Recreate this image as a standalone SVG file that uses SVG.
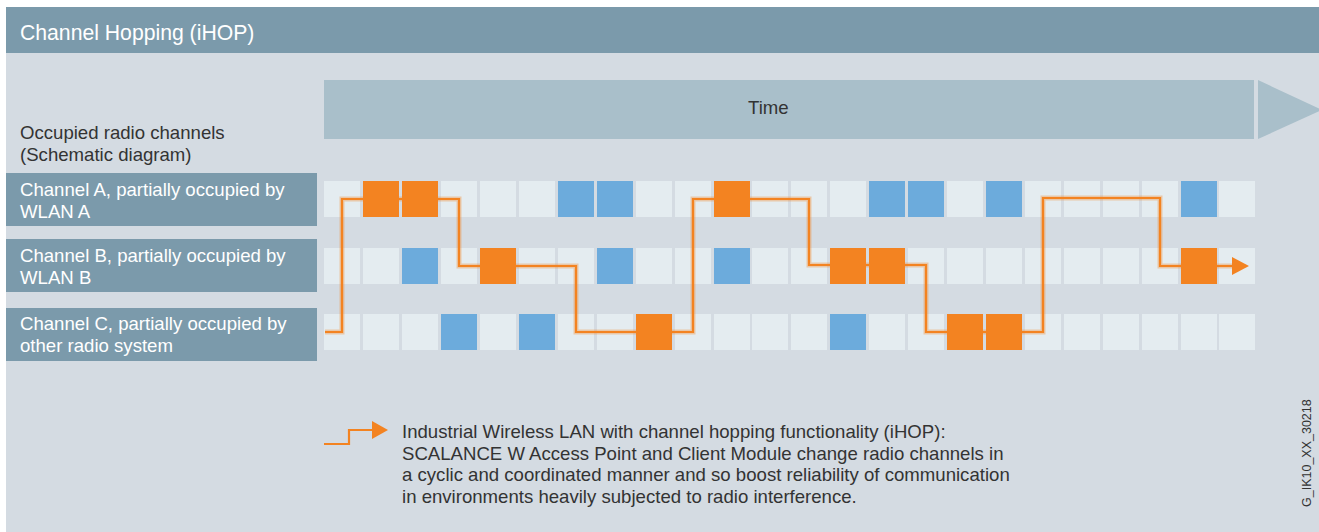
<svg xmlns="http://www.w3.org/2000/svg" width="1319" height="532" viewBox="0 0 1319 532">
<style>
.hdr{fill:#7b9aab}
.lbl{fill:#7b9aab}
.t{font-family:"Liberation Sans",Arial,sans-serif;font-size:18.6px}
.w{fill:#ffffff}
.d{fill:#333333}
.L{fill:#e4ecf0}
.B{fill:#6cabdc}
.O{fill:#f38321}
.halo{fill:none;stroke:#f38321;stroke-opacity:0.35;stroke-width:5;stroke-linejoin:miter}
.ln{fill:none;stroke:#f38321;stroke-width:2.2;stroke-linejoin:miter}
</style>
<rect width="1319" height="532" fill="#ffffff"/>
<rect x="6" y="53" width="1313" height="479" fill="#d4dbe2"/>
<g id="header">
<rect class="hdr" x="6" y="7" width="1313" height="46"/>
<text x="20" y="39.5" class="t w" style="font-size:21.2px">Channel Hopping (iHOP)</text>
</g>
<g id="time">
<rect x="324" y="80" width="930" height="59" fill="#a9bfca"/>
<polygon points="1258,80 1322,110 1258,139" fill="#a9bfca"/>
<text x="748" y="114" class="t d">Time</text>
</g>
<g id="axis-title">
<text x="20" y="139" class="t d">Occupied radio channels</text>
<text x="20" y="161" class="t d">(Schematic diagram)</text>
</g>
<g id="channel-a-label">
<rect class="lbl" x="6" y="173" width="311" height="53"/>
<text x="20" y="195.7" class="t w">Channel A, partially occupied by</text>
<text x="20" y="217.7" class="t w">WLAN A</text>
</g>
<g id="channel-b-label">
<rect class="lbl" x="6" y="239" width="311" height="53"/>
<text x="20" y="261.7" class="t w">Channel B, partially occupied by</text>
<text x="20" y="283.7" class="t w">WLAN B</text>
</g>
<g id="channel-c-label">
<rect class="lbl" x="6" y="308" width="311" height="53"/>
<text x="20" y="329.5" class="t w">Channel C, partially occupied by</text>
<text x="20" y="351.5" class="t w">other radio system</text>
</g>
<g id="row-a">
<rect class="L" x="324" y="181" width="36" height="36"/>
<rect class="L" x="441" y="181" width="36" height="36"/>
<rect class="L" x="480" y="181" width="36" height="36"/>
<rect class="L" x="519" y="181" width="36" height="36"/>
<rect class="B" x="558" y="181" width="36" height="36"/>
<rect class="B" x="597" y="181" width="36" height="36"/>
<rect class="L" x="636" y="181" width="36" height="36"/>
<rect class="L" x="675" y="181" width="36" height="36"/>
<rect class="L" x="752" y="181" width="36" height="36"/>
<rect class="L" x="791" y="181" width="36" height="36"/>
<rect class="L" x="830" y="181" width="36" height="36"/>
<rect class="B" x="869" y="181" width="36" height="36"/>
<rect class="B" x="908" y="181" width="36" height="36"/>
<rect class="L" x="947" y="181" width="36" height="36"/>
<rect class="B" x="986" y="181" width="36" height="36"/>
<rect class="L" x="1025" y="181" width="36" height="36"/>
<rect class="L" x="1064" y="181" width="36" height="36"/>
<rect class="L" x="1103" y="181" width="36" height="36"/>
<rect class="L" x="1142" y="181" width="36" height="36"/>
<rect class="B" x="1181" y="181" width="36" height="36"/>
<rect class="L" x="1219" y="181" width="36" height="36"/>
</g>
<g id="row-b">
<rect class="L" x="324" y="248" width="36" height="36"/>
<rect class="L" x="363" y="248" width="36" height="36"/>
<rect class="B" x="402" y="248" width="36" height="36"/>
<rect class="L" x="441" y="248" width="36" height="36"/>
<rect class="L" x="519" y="248" width="36" height="36"/>
<rect class="L" x="558" y="248" width="36" height="36"/>
<rect class="B" x="597" y="248" width="36" height="36"/>
<rect class="L" x="636" y="248" width="36" height="36"/>
<rect class="L" x="675" y="248" width="36" height="36"/>
<rect class="B" x="714" y="248" width="36" height="36"/>
<rect class="L" x="752" y="248" width="36" height="36"/>
<rect class="L" x="791" y="248" width="36" height="36"/>
<rect class="L" x="908" y="248" width="36" height="36"/>
<rect class="L" x="947" y="248" width="36" height="36"/>
<rect class="L" x="986" y="248" width="36" height="36"/>
<rect class="L" x="1025" y="248" width="36" height="36"/>
<rect class="L" x="1064" y="248" width="36" height="36"/>
<rect class="L" x="1103" y="248" width="36" height="36"/>
<rect class="L" x="1142" y="248" width="36" height="36"/>
<rect class="L" x="1219" y="248" width="36" height="36"/>
</g>
<g id="row-c">
<rect class="L" x="324" y="314" width="36" height="36"/>
<rect class="L" x="363" y="314" width="36" height="36"/>
<rect class="L" x="402" y="314" width="36" height="36"/>
<rect class="B" x="441" y="314" width="36" height="36"/>
<rect class="L" x="480" y="314" width="36" height="36"/>
<rect class="B" x="519" y="314" width="36" height="36"/>
<rect class="L" x="558" y="314" width="36" height="36"/>
<rect class="L" x="597" y="314" width="36" height="36"/>
<rect class="L" x="675" y="314" width="36" height="36"/>
<rect class="L" x="714" y="314" width="36" height="36"/>
<rect class="L" x="752" y="314" width="36" height="36"/>
<rect class="L" x="791" y="314" width="36" height="36"/>
<rect class="B" x="830" y="314" width="36" height="36"/>
<rect class="L" x="869" y="314" width="36" height="36"/>
<rect class="L" x="908" y="314" width="36" height="36"/>
<rect class="L" x="1025" y="314" width="36" height="36"/>
<rect class="L" x="1064" y="314" width="36" height="36"/>
<rect class="L" x="1103" y="314" width="36" height="36"/>
<rect class="L" x="1142" y="314" width="36" height="36"/>
<rect class="L" x="1181" y="314" width="36" height="36"/>
<rect class="L" x="1219" y="314" width="36" height="36"/>
</g>
<g id="connectors">
<path class="halo" d="M325,332 H342 V199 H459 V266 H576 V332 H693 V199 H809 V265 H926 V332 H1043 V198 H1160 V266 H1234"/>
<path class="ln" d="M325,332 H342 V199 H459 V266 H576 V332 H693 V199 H809 V265 H926 V332 H1043 V198 H1160 V266 H1234"/>
<polygon class="O" points="1232,257 1249,266 1232,275"/>
</g>
<g id="hop-slots">
<rect class="O" x="363" y="181" width="36" height="36"/>
<rect class="O" x="402" y="181" width="36" height="36"/>
<rect class="O" x="480" y="248" width="36" height="36"/>
<rect class="O" x="636" y="314" width="36" height="36"/>
<rect class="O" x="714" y="181" width="36" height="36"/>
<rect class="O" x="830" y="248" width="36" height="36"/>
<rect class="O" x="869" y="248" width="36" height="36"/>
<rect class="O" x="947" y="314" width="36" height="36"/>
<rect class="O" x="986" y="314" width="36" height="36"/>
<rect class="O" x="1181" y="248" width="36" height="36"/>
</g>
<g id="legend">
<path class="ln" d="M324,444 H349 V430 H374"/>
<polygon class="O" points="372,421 388,430 372,439"/>
<text class="t d" x="402" y="438">Industrial Wireless LAN with channel hopping functionality (iHOP):</text>
<text class="t d" x="402" y="459.7">SCALANCE W Access Point and Client Module change radio channels in</text>
<text class="t d" x="402" y="481.4">a cyclic and coordinated manner and so boost reliability of communication</text>
<text class="t d" x="402" y="503.1">in environments heavily subjected to radio interference.</text>
</g>
<g id="ref-code">
<text class="d" transform="translate(1311,507) rotate(-90)" style="font-family:'Liberation Sans',Arial,sans-serif;font-size:12.5px">G_IK10_XX_30218</text>
</g>
</svg>
